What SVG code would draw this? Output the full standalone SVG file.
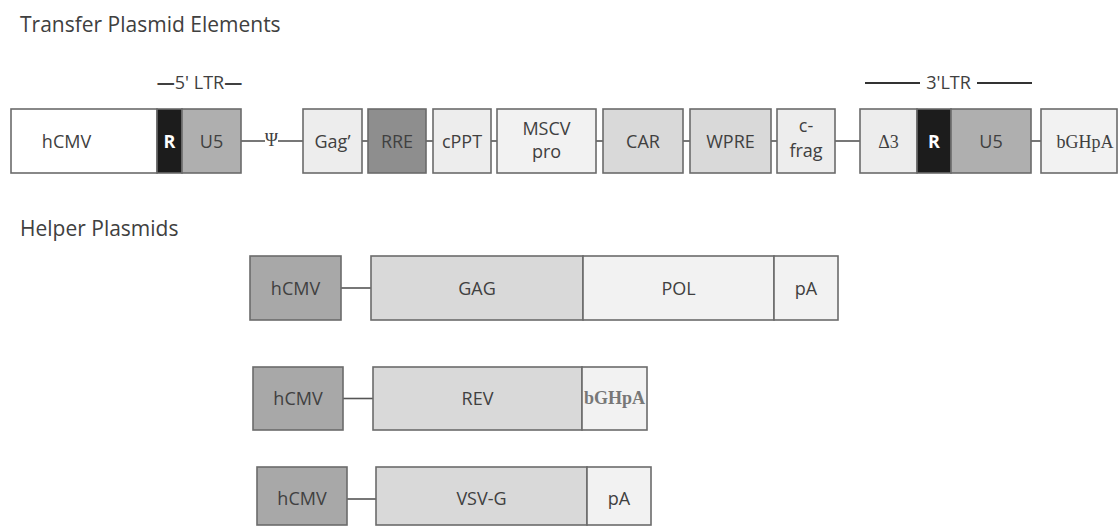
<svg xmlns="http://www.w3.org/2000/svg" width="1118" height="527" viewBox="0 0 1118 527">
<style>
.b{stroke:#6b6b6b;stroke-width:1.6}
.t{font-family:"Open Sans","Liberation Sans",sans-serif;font-size:18px;fill:#404040;text-anchor:middle}
.s{font-family:"Liberation Serif","DejaVu Serif",serif;font-size:18px;fill:#404040;text-anchor:middle}
.h{font-family:"Open Sans","Liberation Sans",sans-serif;font-size:21px;fill:#404040}
.c{stroke:#555;stroke-width:1.6;fill:none}
.w{fill:#fff}.k{fill:#1c1c1c}.g5{fill:#afafaf}.l{fill:#ededed}.d{fill:#8e8e8e}.m{fill:#d9d9d9}.p{fill:#f2f2f2}.hc{fill:#a8a8a8}
</style>
<rect width="1118" height="527" fill="#fff"/>
<text class="h" x="20" y="32">Transfer Plasmid Elements</text>
<text class="h" x="20" y="236">Helper Plasmids</text>
<g id="ltr5-label">
<text class="t" x="199.5" y="89" font-size="19"><tspan font-weight="700">—</tspan>5' LTR<tspan font-weight="700">—</tspan></text>
</g>
<g id="ltr3-label">
<line x1="865" y1="83" x2="920" y2="83" stroke="#333" stroke-width="2"/>
<line x1="977" y1="83" x2="1032" y2="83" stroke="#333" stroke-width="2"/>
<text class="t" x="948.5" y="89" font-size="19">3'LTR</text>
</g>
<g id="connectors">
<line class="c" x1="241" y1="141" x2="265" y2="141"/>
<line class="c" x1="278" y1="141" x2="303" y2="141"/>
<line class="c" x1="362" y1="141" x2="368" y2="141"/>
<line class="c" x1="426" y1="141" x2="433" y2="141"/>
<line class="c" x1="491" y1="141" x2="497" y2="141"/>
<line class="c" x1="596" y1="141" x2="603" y2="141"/>
<line class="c" x1="683" y1="141" x2="690" y2="141"/>
<line class="c" x1="771" y1="141" x2="777" y2="141"/>
<line class="c" x1="835" y1="141" x2="860" y2="141"/>
<line class="c" x1="1031" y1="141" x2="1041" y2="141"/>
<line class="c" x1="341" y1="288" x2="371" y2="288"/>
<line class="c" x1="343" y1="398.5" x2="373" y2="398.5"/>
<line class="c" x1="347" y1="499" x2="376" y2="499"/>
<text class="s" x="271.5" y="146" font-size="14">Ψ</text>
</g>
<g id="ltr5">
<rect class="b w" x="11" y="109" width="146" height="64"/>
<text class="t" x="66.5" y="147.5">hCMV</text>
<rect class="b k" x="157" y="109" width="25" height="64"/>
<text class="t" x="169.5" y="147.5" fill="#fff" font-weight="700" style="fill:#fff">R</text>
<rect class="b g5" x="182" y="109" width="59" height="64"/>
<text class="t" x="211.5" y="147.5">U5</text>
</g>
<g id="gag"><rect class="b l" x="303" y="109" width="59" height="64"/><text class="t" x="332.5" y="147.5">Gag’</text></g>
<g id="rre"><rect class="b d" x="368" y="109" width="58" height="64"/><text class="t" x="397" y="147.5">RRE</text></g>
<g id="cppt"><rect class="b l" x="433" y="109" width="58" height="64"/><text class="t" x="462" y="147.5">cPPT</text></g>
<g id="mscv"><rect class="b p" x="497" y="109" width="99" height="64"/><text class="t" x="546.5" y="135">MSCV</text><text class="t" x="546.5" y="158">pro</text></g>
<g id="car"><rect class="b m" x="603" y="109" width="80" height="64"/><text class="t" x="643" y="147.5">CAR</text></g>
<g id="wpre"><rect class="b m" x="690" y="109" width="81" height="64"/><text class="t" x="730.5" y="147.5">WPRE</text></g>
<g id="cfrag"><rect class="b l" x="777" y="109" width="58" height="64"/><text class="t" x="806" y="132">c-</text><text class="t" x="806" y="157">frag</text></g>
<g id="ltr3">
<rect class="b l" x="860" y="109" width="57" height="64"/>
<text class="s" x="888.5" y="147.5">Δ3</text>
<rect class="b k" x="917" y="109" width="34" height="64"/>
<text class="t" x="934" y="147.5" font-weight="700" style="fill:#fff">R</text>
<rect class="b g5" x="951" y="109" width="80" height="64"/>
<text class="t" x="991" y="147.5">U5</text>
</g>
<g id="bghpa"><rect class="b p" x="1041" y="109" width="76" height="64"/><text class="s" x="1085" y="147.5">bGHpA</text></g>
<g id="helper-gagpol">
<rect class="b hc" x="250" y="256" width="91" height="64"/><text class="t" x="295.5" y="294.5">hCMV</text>
<rect class="b m" x="371" y="256" width="212" height="64"/><text class="t" x="477" y="294.5">GAG</text>
<rect class="b p" x="583" y="256" width="191" height="64"/><text class="t" x="678.5" y="294.5">POL</text>
<rect class="b p" x="774" y="256" width="64" height="64"/><text class="t" x="806" y="294.5">pA</text>
</g>
<g id="helper-rev">
<rect class="b hc" x="253" y="367" width="90" height="63"/><text class="t" x="298" y="405">hCMV</text>
<rect class="b m" x="373" y="367" width="209" height="63"/><text class="t" x="477.5" y="405">REV</text>
<rect class="b p" x="582" y="367" width="65" height="63"/><text class="s" x="614.5" y="404" font-size="15" font-weight="700" style="fill:#777">bGHpA</text>
</g>
<g id="helper-vsvg">
<rect class="b hc" x="257" y="467" width="90" height="58"/><text class="t" x="302" y="505">hCMV</text>
<rect class="b m" x="376" y="467" width="211" height="58"/><text class="t" x="481.5" y="505">VSV-G</text>
<rect class="b p" x="587" y="467" width="64" height="58"/><text class="t" x="619" y="505">pA</text>
</g>
</svg>
